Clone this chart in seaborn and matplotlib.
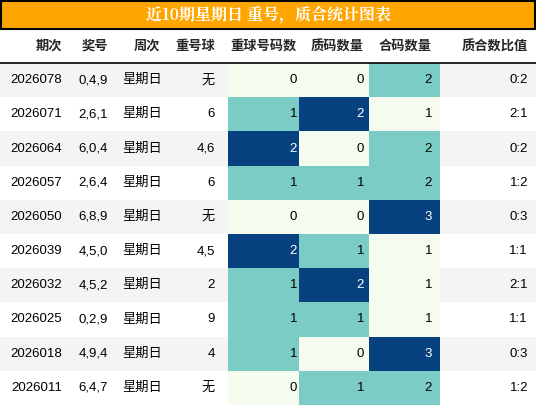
import numpy as np
import pandas as pd
import matplotlib
matplotlib.use('Agg')
import matplotlib.pyplot as plt
from matplotlib.colors import ListedColormap
from matplotlib.patches import Rectangle
import seaborn as sns

title = '近10期星期日 重号，质合统计图表'
headers = ['期次', '奖号', '周次', '重号球', '重球号码数', '质码数量', '合码数量', '质合数比值']
periods = ['2026078', '2026071', '2026064', '2026057', '2026050', '2026039', '2026032', '2026025', '2026018', '2026011']
numbers = ['0,4,9', '2,6,1', '6,0,4', '2,6,4', '6,8,9', '4,5,0', '4,5,2', '0,2,9', '4,9,4', '6,4,7']
weekday = ['星期日'] * 10
repeat_ball = ['无', '6', '4,6', '6', '无', '4,5', '2', '9', '4', '无']
repeat_cnt = [0, 1, 2, 1, 0, 2, 1, 1, 1, 0]
prime_cnt = [0, 2, 0, 1, 0, 1, 2, 1, 0, 1]
comp_cnt = [2, 1, 2, 2, 3, 1, 1, 1, 3, 2]
ratio = ['0:2', '2:1', '0:2', '1:2', '0:3', '1:1', '2:1', '1:1', '0:3', '1:2']

W, H = 536, 405
edges = [0, 72, 118, 168, 228, 310, 372, 440, 536]
text_x = [62, 108, 122, 215, 297, 364, 432, 528]
head_x = [62, 108, 160, 215, 297, 364, 432, 528]
top_title, top_head, top_rows = 0, 30, 63
row_h = (H - top_rows) / 10

sns.set_theme(style='white')
plt.rcParams['font.family'] = ['Liberation Sans', 'Noto Sans CJK SC']

fig = plt.figure(figsize=(W / 100, H / 100), dpi=100)
ax = fig.add_axes([0, 0, 1, 1])
ax.set_xlim(0, W)
ax.set_ylim(H, 0)
ax.axis('off')

# title bar
ax.add_patch(Rectangle((1, 1), W - 2, top_head - 2, facecolor='#ffa500', edgecolor='black', lw=1.5))
ax.text(W / 2, top_head / 2, title, ha='center', va='center', color='white',
        fontsize=11.5, fontweight='bold', family=['Noto Serif CJK SC', 'Noto Sans CJK SC'])

for h, x in zip(headers, head_x):
    ax.text(x, (top_head + top_rows) / 2, h, ha='right', va='center', fontsize=9.5, fontweight='bold')
ax.plot([0, W], [top_rows, top_rows], color='black', lw=1.2)

cols = [periods, numbers, weekday, repeat_ball, repeat_cnt, prime_cnt, comp_cnt, ratio]
for i in range(10):
    y0 = top_rows + i * row_h
    bg = '#f4f4f4' if i % 2 == 0 else 'white'
    ax.add_patch(Rectangle((0, y0), edges[4], row_h, facecolor=bg, lw=0))
    ax.add_patch(Rectangle((edges[7], y0), W - edges[7], row_h, facecolor=bg, lw=0))

# heat cells
df = pd.DataFrame({'r': repeat_cnt, 'p': prime_cnt, 'c': comp_cnt})
levels = df - df.min()
cmap = ListedColormap(['#f5fbef', '#7bccc4', '#08417f'])
hax = fig.add_axes([edges[4] / W, 0, (edges[7] - edges[4]) / W, (H - top_rows) / H])
sns.heatmap(levels, ax=hax, cmap=cmap, vmin=-0.5, vmax=2.5, cbar=False,
            xticklabels=False, yticklabels=False, linewidths=0)
hax.axis('off')

for i in range(10):
    yc = top_rows + (i + 0.5) * row_h
    for j, col in enumerate(cols):
        ha = 'left' if j == 2 else 'right'
        color = 'black'
        if 4 <= j <= 6 and levels.iloc[i, j - 4] == 2:
            color = 'white'
        ax.text(text_x[j], yc, str(col[i]), ha=ha, va='center', fontsize=9.5, color=color, zorder=5)

ax.set_zorder(1)
ax.patch.set_visible(False)
fig.savefig('out.png', dpi=100)
